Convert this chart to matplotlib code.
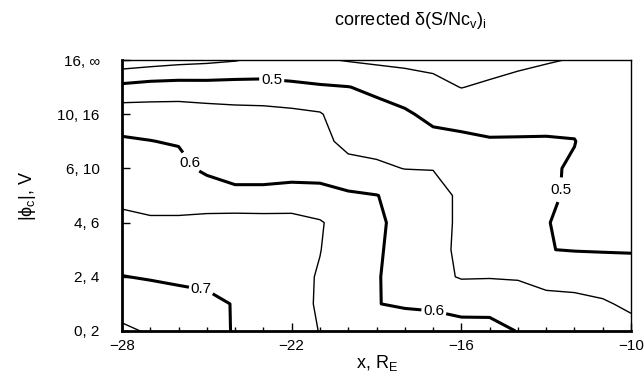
import numpy as np
import matplotlib
matplotlib.use("Agg")
import matplotlib.pyplot as plt

plt.rcParams["font.family"] = ["Liberation Sans", "DejaVu Sans"]

# grid: x in R_E, y = |phi_c| bin index (0 -> "0, 2" ... 5 -> "16, inf")
x_re = [-28, -27, -26, -25, -24, -23, -22, -21, -20, -19,
        -18, -17, -16, -15, -14, -13, -12, -11, -10]
y_bin = [0, 0.5, 1, 1.5, 2, 2.5, 3, 3.5, 4, 4.5, 5]
y_labels = ["0, 2", "2, 4", "4, 6", "6, 10", "10, 16", "16, \u221e"]

# corrected delta(S/Nc_v)_i, one list per x column (bottom -> top)
z_cols = [
    [0.759, 0.729, 0.701, 0.680, 0.659, 0.641, 0.623, 0.605, 0.578, 0.512, 0.419],
    [0.745, 0.721, 0.697, 0.676, 0.655, 0.636, 0.619, 0.601, 0.575, 0.520, 0.427],
    [0.733, 0.713, 0.694, 0.675, 0.655, 0.636, 0.617, 0.596, 0.575, 0.522, 0.435],
    [0.726, 0.709, 0.691, 0.674, 0.656, 0.638, 0.587, 0.578, 0.570, 0.520, 0.440],
    [0.695, 0.698, 0.689, 0.677, 0.666, 0.620, 0.570, 0.568, 0.565, 0.521, 0.447],
    [0.680, 0.677, 0.672, 0.668, 0.665, 0.620, 0.570, 0.567, 0.565, 0.517, 0.461],
    [0.665, 0.663, 0.662, 0.662, 0.662, 0.627, 0.572, 0.566, 0.561, 0.511, 0.460],
    [0.649, 0.646, 0.647, 0.651, 0.653, 0.625, 0.570, 0.563, 0.554, 0.505, 0.455],
    [0.643, 0.621, 0.625, 0.629, 0.633, 0.607, 0.565, 0.537, 0.519, 0.501, 0.447],
    [0.636, 0.601, 0.603, 0.605, 0.607, 0.601, 0.558, 0.534, 0.515, 0.491, 0.441],
    [0.625, 0.595, 0.583, 0.585, 0.587, 0.587, 0.549, 0.528, 0.507, 0.475, 0.439],
    [0.620, 0.593, 0.561, 0.562, 0.563, 0.563, 0.549, 0.515, 0.487, 0.462, 0.438],
    [0.620, 0.581, 0.547, 0.543, 0.544, 0.544, 0.543, 0.511, 0.480, 0.449, 0.430],
    [0.620, 0.580, 0.548, 0.539, 0.530, 0.521, 0.512, 0.503, 0.483, 0.457, 0.432],
    [0.598, 0.570, 0.547, 0.538, 0.530, 0.521, 0.512, 0.503, 0.485, 0.463, 0.441],
    [0.590, 0.565, 0.535, 0.501, 0.501, 0.505, 0.505, 0.503, 0.487, 0.467, 0.447],
    [0.575, 0.560, 0.536, 0.498, 0.494, 0.495, 0.496, 0.501, 0.490, 0.470, 0.452],
    [0.565, 0.555, 0.529, 0.497, 0.490, 0.485, 0.482, 0.480, 0.475, 0.468, 0.460],
    [0.565, 0.542, 0.520, 0.497, 0.490, 0.485, 0.482, 0.480, 0.475, 0.468, 0.460],
]

thin_levels = [0.45, 0.55, 0.65, 0.75]
thick_levels = [0.5, 0.6, 0.7]

Z = np.array(z_cols).T

fig = plt.figure(figsize=(6.44, 3.8), dpi=100)
ax = fig.add_axes([0.1894, 0.129, 0.7905, 0.713])

ax.contour(x_re, y_bin, Z, levels=thin_levels, colors="black", linewidths=1.0)
cs = ax.contour(x_re, y_bin, Z, levels=thick_levels, colors="black", linewidths=2.2)
labels = ax.clabel(cs, fmt="%.1f", fontsize=11, inline=True, inline_spacing=2,
                   manual=[(-22.7, 4.67), (-12.4, 2.6), (-25.6, 3.1), (-17.0, 0.3), (-25.2, 0.76)])
for t in labels:
    t.set_rotation(0)

ax.set_xlim(-28, -10)
ax.set_ylim(0, 5)
ax.set_xticks([-28, -22, -16, -10])
ax.set_xticks(range(-28, -9), minor=True)
ax.set_yticks(range(6))
ax.set_yticklabels(y_labels)
ax.tick_params(direction="in", labelsize=11, length=6, width=1, top=False, right=False)
ax.tick_params(which="minor", direction="in", length=3, width=1)
ax.tick_params(axis="x", pad=6)
ax.tick_params(axis="y", pad=16)

for side in ["left", "bottom"]:
    ax.spines[side].set_linewidth(2)
for side in ["top", "right"]:
    ax.spines[side].set_linewidth(1)

ax.set_xlabel(r"x, R$_\mathregular{E}$", fontsize=13, labelpad=0)
ax.set_ylabel(r"|$\mathregular{\phi_c}$|, V", fontsize=13, labelpad=14)
fig.text(0.637, 0.945, r"corrected $\mathregular{\delta}$(S/Nc$_\mathregular{v}$)$_\mathregular{i}$",
         fontsize=13, ha="center", va="center")

fig.savefig("out.png", dpi=100)
